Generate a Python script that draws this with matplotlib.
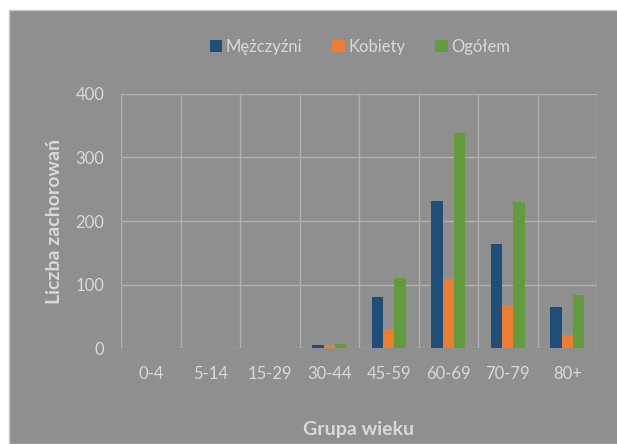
import matplotlib.pyplot as plt
import numpy as np
from matplotlib.patches import Rectangle

grupy = ['0-4', '5-14', '15-29', '30-44', '45-59', '60-69', '70-79', '80+']
mezczyzni = [0, 0, 0, 5, 81, 231, 163, 65]
kobiety = [0, 0, 0, 4, 30, 109, 68, 20]
ogolem = [0, 0, 0, 7, 111, 339, 230, 83]

plt.rcParams['font.family'] = ['Lato', 'DejaVu Sans']
txt = '#d9d9d9'
tlo = '#8f8f8f'

fig = plt.figure(figsize=(6.17, 4.44), dpi=100)
fig.patch.set_facecolor('white')
fig.patches.append(Rectangle((8.5 / 617, 0), 1, 1 - 10.5 / 444, transform=fig.transFigure,
                             facecolor=tlo, edgecolor='#c8c8c8', linewidth=1, zorder=-5))

ax = fig.add_axes([121 / 617, 1 - 348 / 444, 476 / 617, 254 / 444])
ax.set_facecolor(tlo)

x = np.arange(len(grupy))
w = 0.19
ax.bar(x - w, mezczyzni, w, color='#1f4e79', label='Mężczyźni', zorder=3)
ax.bar(x, kobiety, w, color='#ed7d31', label='Kobiety', zorder=3)
ax.bar(x + w, ogolem, w, color='#629c3c', label='Ogółem', zorder=3)

ax.set_xlim(-0.5, len(grupy) - 0.5)
ax.set_ylim(0, 400)
ax.set_yticks([0, 100, 200, 300, 400])
ax.set_xticks(x)
ax.set_xticklabels(grupy)
for xb in np.arange(-0.5, len(grupy), 1):
    ax.axvline(xb, color='#b0b0b0', linewidth=1, zorder=1)
ax.grid(axis='y', color='#b0b0b0', linewidth=1, zorder=1)
for s in ax.spines.values():
    s.set_visible(False)
ax.tick_params(length=0, colors=txt, labelsize=12, pad=13)
ax.tick_params(axis='y', pad=12)

ax.set_xlabel('Grupa wieku', color=txt, fontsize=14, fontweight='bold', labelpad=28)
ax.set_ylabel('Liczba zachorowań', color=txt, fontsize=14, fontweight='bold', labelpad=9)

leg = fig.legend(loc='center', bbox_to_anchor=(360 / 617, 1 - 47 / 444), ncol=3,
                 frameon=False, fontsize=12, handlelength=0.75, handleheight=0.75,
                 handletextpad=0.2, columnspacing=1.8)
for t in leg.get_texts():
    t.set_color(txt)

fig.savefig('out.png', dpi=100, facecolor=fig.get_facecolor())
